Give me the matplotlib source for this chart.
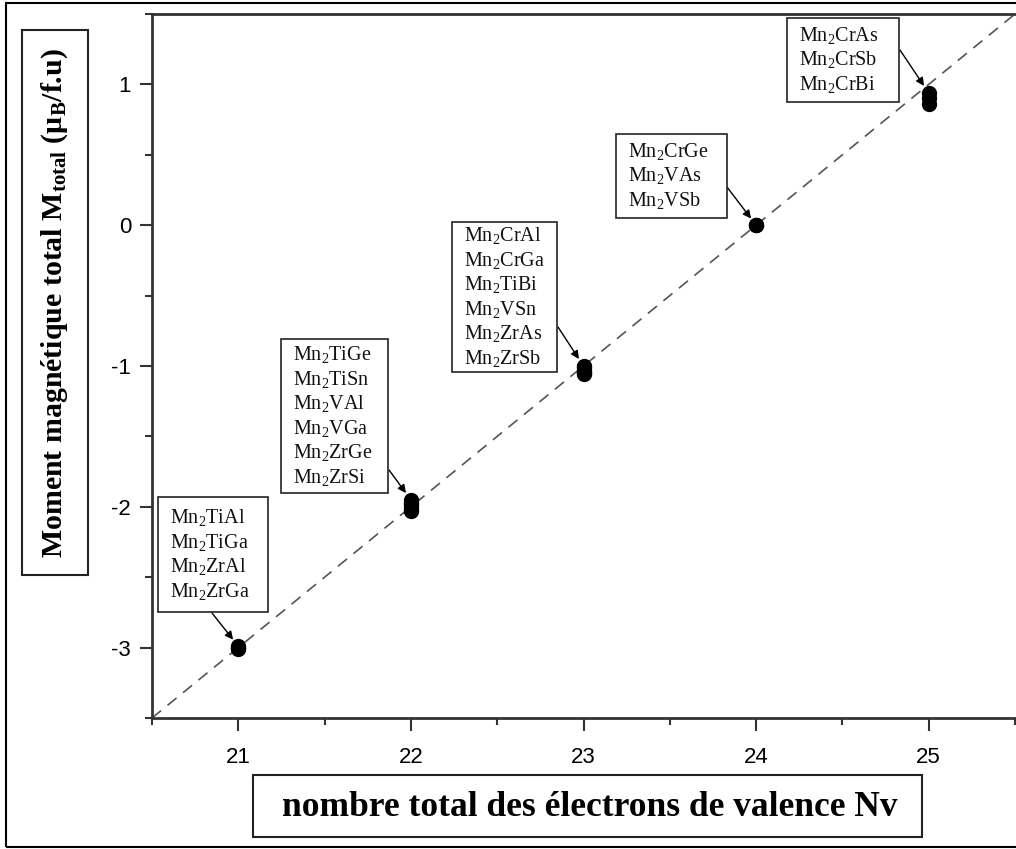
import matplotlib
matplotlib.use("Agg")
import matplotlib.pyplot as plt
from matplotlib.patches import Rectangle
from matplotlib.ticker import MultipleLocator

plt.rcParams["mathtext.default"] = "regular"
plt.rcParams["axes.unicode_minus"] = False

# ---------------- data ----------------
nv = [21, 22, 23, 24, 25]
compounds_21 = ["Mn$_2$TiAl", "Mn$_2$TiGa", "Mn$_2$ZrAl", "Mn$_2$ZrGa"]
compounds_22 = ["Mn$_2$TiGe", "Mn$_2$TiSn", "Mn$_2$VAl", "Mn$_2$VGa", "Mn$_2$ZrGe", "Mn$_2$ZrSi"]
compounds_23 = ["Mn$_2$CrAl", "Mn$_2$CrGa", "Mn$_2$TiBi", "Mn$_2$VSn", "Mn$_2$ZrAs", "Mn$_2$ZrSb"]
compounds_24 = ["Mn$_2$CrGe", "Mn$_2$VAs", "Mn$_2$VSb"]
compounds_25 = ["Mn$_2$CrAs", "Mn$_2$CrSb", "Mn$_2$CrBi"]
moment_21 = [-2.99, -3.00, -3.00, -3.01]
moment_22 = [-1.95, -1.97, -1.98, -2.00, -2.02, -2.03]
moment_23 = [-1.00, -1.01, -1.03, -1.04, -1.05, -1.06]
moment_24 = [0.00, 0.00, 0.00]
moment_25 = [0.94, 0.90, 0.86]
slater_x = [20.5, 25.5]          # Slater-Pauling rule M = Nv - 24
slater_y = [x - 24 for x in slater_x]

groups = [compounds_21, compounds_22, compounds_23, compounds_24, compounds_25]
moments = [moment_21, moment_22, moment_23, moment_24, moment_25]

# ---------------- layout ----------------
W, H = 1016, 849
fig = plt.figure(figsize=(W / 100, H / 100), dpi=100)
AX_L, AX_R, AX_T, AX_B = 152, 1015, 14, 718
ax = fig.add_axes([AX_L / W, 1 - AX_B / H, (AX_R - AX_L) / W, (AX_B - AX_T) / H])


def fxy(px, py):
    return (px / W, 1 - py / H)


ax.plot(slater_x, slater_y, color="#555555", lw=1.2, dashes=(7, 5), zorder=1)
for x, ys in zip(nv, moments):
    ax.plot([x] * len(ys), ys, "o", color="black", ms=10, zorder=3)

ax.set_xlim(20.5, 25.5)
ax.set_ylim(-3.5, 1.5)
ax.xaxis.set_major_locator(MultipleLocator(1))
ax.xaxis.set_minor_locator(MultipleLocator(0.5))
ax.yaxis.set_major_locator(MultipleLocator(1))
ax.yaxis.set_minor_locator(MultipleLocator(0.5))
ax.tick_params(which="major", direction="out", length=9, width=1.5, color="#333333",
               labelsize=16, pad=6)
ax.tick_params(which="minor", direction="out", length=5, width=1.5, color="#333333")
ax.tick_params(axis="x", which="major", pad=12)
for lab in ax.get_xticklabels() + ax.get_yticklabels():
    lab.set_fontfamily("Liberation Sans")
for s in ["left", "bottom", "top"]:
    ax.spines[s].set_linewidth(2)
    ax.spines[s].set_color("#333333")
ax.spines["right"].set_visible(False)

# annotation boxes (pixel extents) and arrow starts
boxes = [(158, 268, 497, 612), (281, 388, 339, 493), (452, 557, 222, 372),
         (616, 727, 134, 218), (787, 899, 18, 102)]
arrow_starts = [(212, 613), (389, 470), (558, 327), (727, 187), (900, 50)]

for (l, r, t, b), names, x, ys, st in zip(boxes, groups, nv, moments, arrow_starts):
    fig.add_artist(Rectangle(fxy(l, b), (r - l) / W, (b - t) / H, transform=fig.transFigure,
                             fill=True, facecolor="white", edgecolor="#222222", lw=1.2, zorder=4))
    fig.text(*fxy(l + 12, (t + b) / 2), "\n".join(names), ha="left", va="center",
             fontsize=14.5, family="Liberation Serif", color="#111111", linespacing=1.22, zorder=5)
    ax.annotate("", xy=(x, max(ys)), xycoords="data", xytext=fxy(*st), textcoords="figure fraction",
                arrowprops=dict(arrowstyle="-|>", color="black", lw=1.0, mutation_scale=12,
                                shrinkA=0, shrinkB=6), zorder=5)

# y label in box
fig.add_artist(Rectangle(fxy(22, 575), 66 / W, 545 / H, transform=fig.transFigure,
                         fill=False, edgecolor="#222222", lw=1.5))
fig.text(*fxy(55, 303), "Moment magnétique total M$_{total}$ (μ$_B$/f.u)", rotation=90,
         ha="center", va="center", fontsize=21.5, fontweight="bold", family="Liberation Serif")

# x label in box
fig.add_artist(Rectangle(fxy(253, 837), (922 - 253) / W, 62 / H, transform=fig.transFigure,
                         fill=False, edgecolor="#222222", lw=1.5))
fig.text(*fxy(590, 807), "nombre total des électrons de valence Nv",
         ha="center", va="center", fontsize=25.5, fontweight="bold", family="Liberation Serif")

# outer frame
fig.add_artist(Rectangle(fxy(6, 847), 1.1, (847 - 3) / H, transform=fig.transFigure,
                         fill=False, edgecolor="black", lw=1.5))

fig.savefig("out.png", dpi=100)
